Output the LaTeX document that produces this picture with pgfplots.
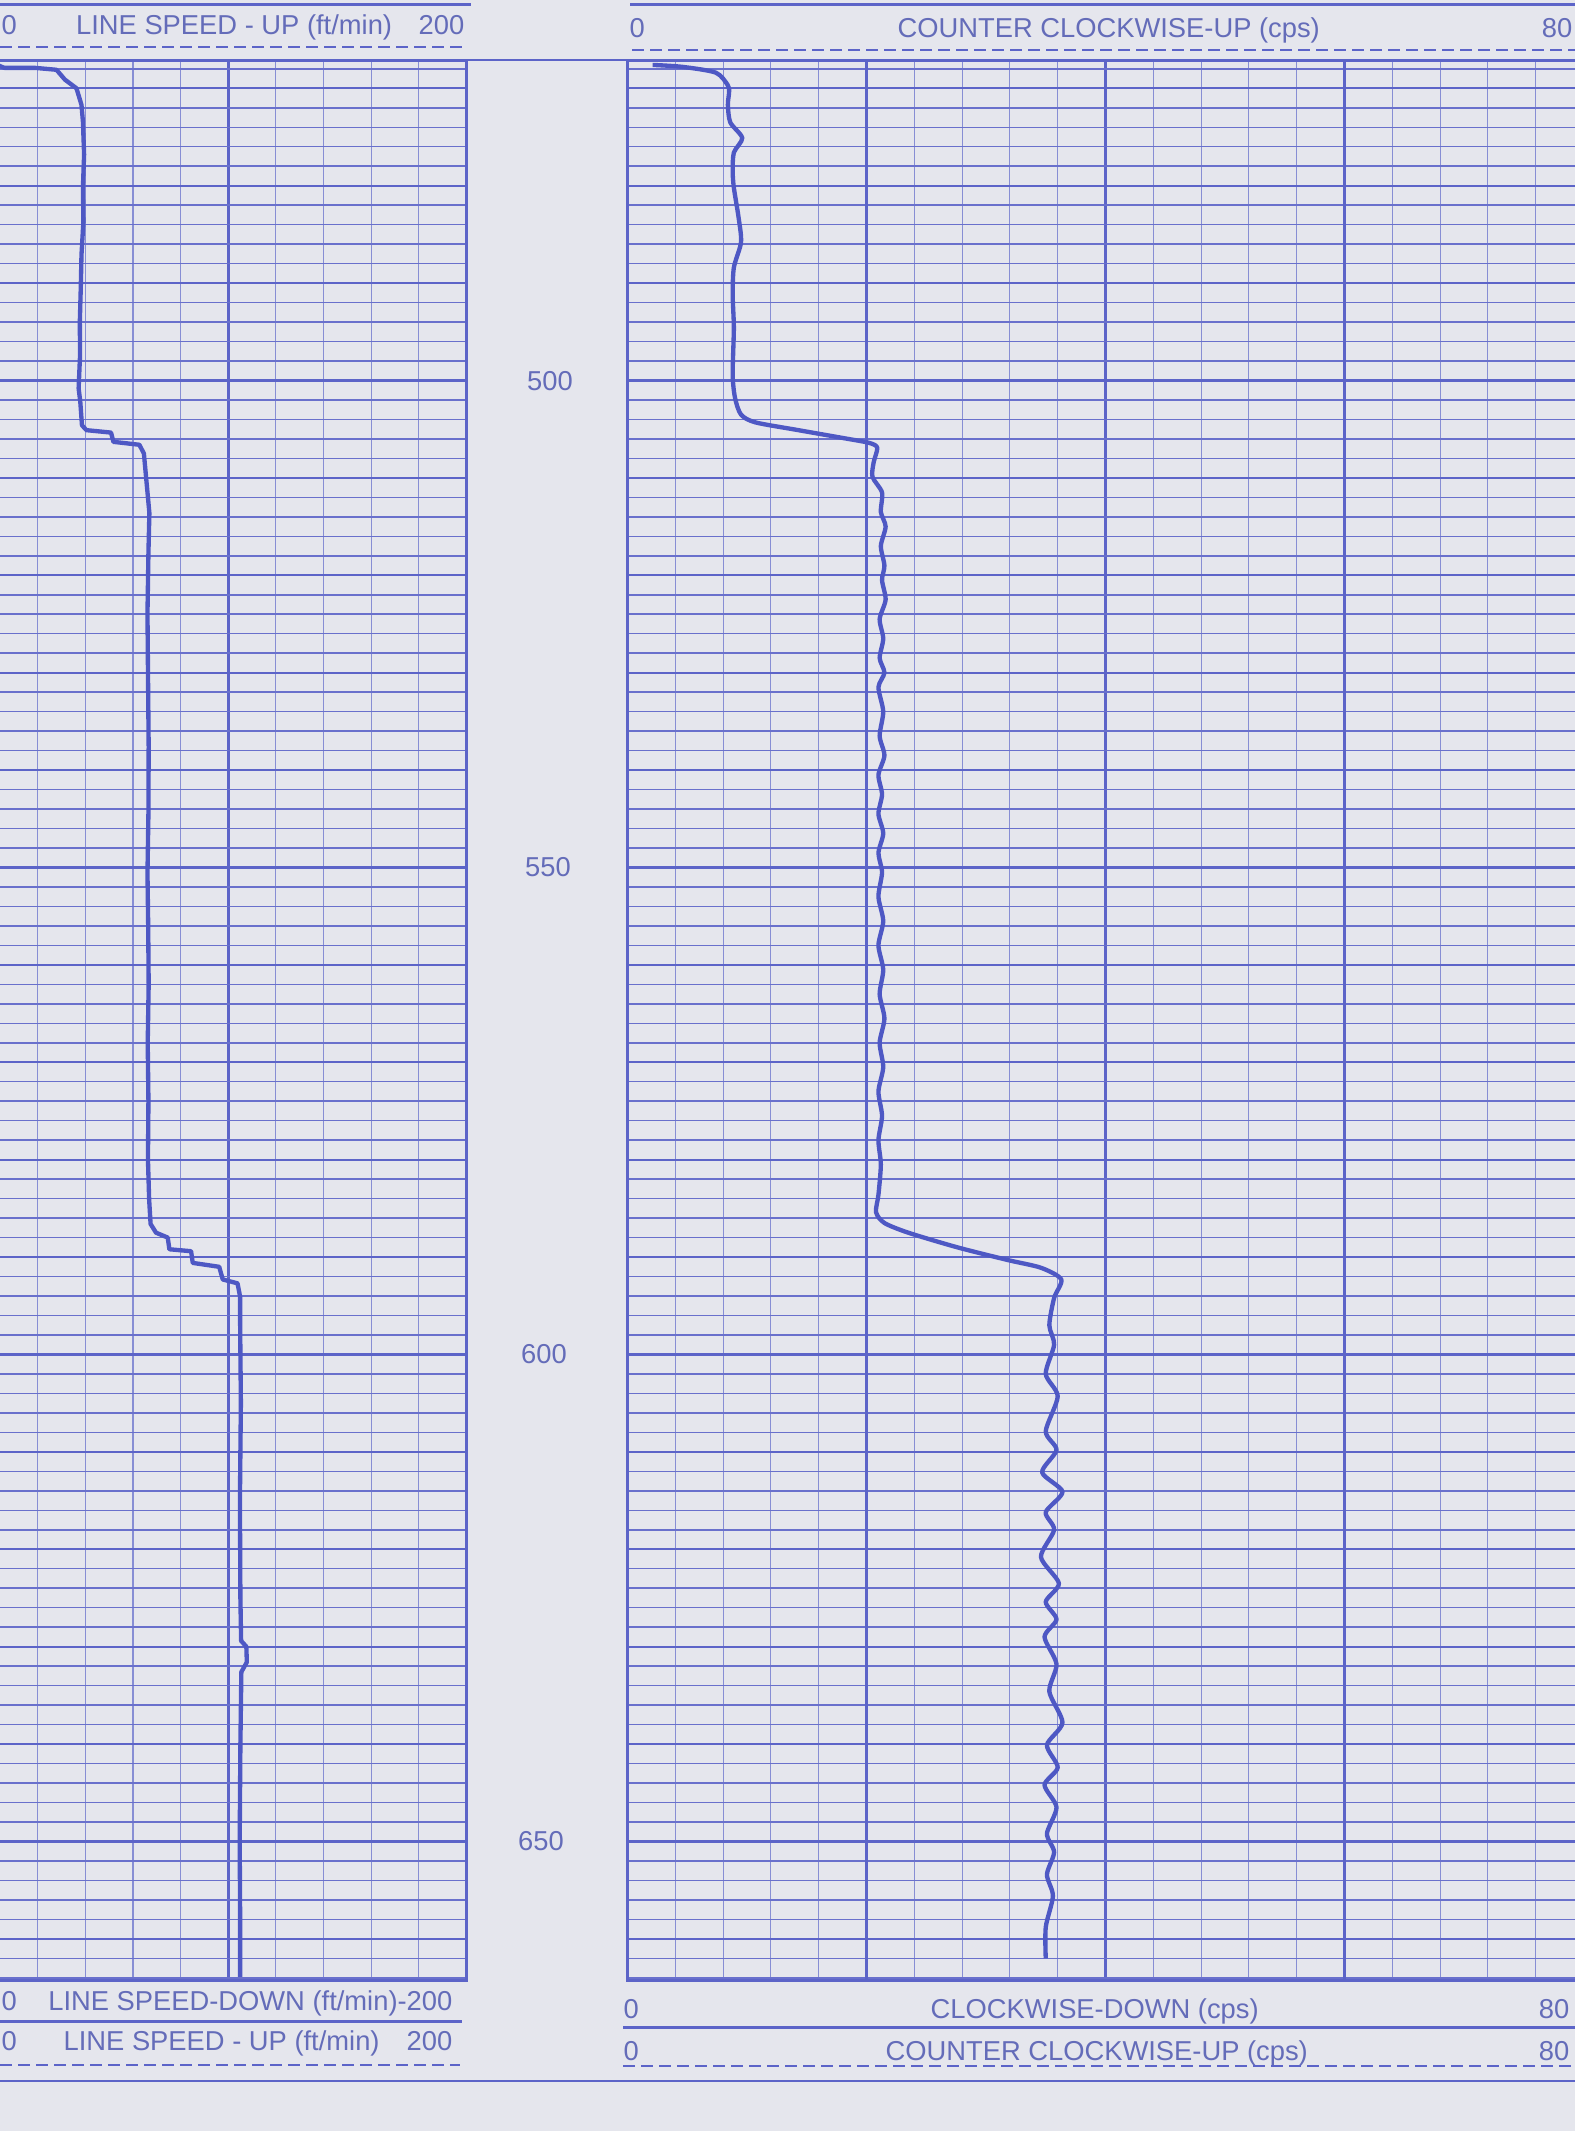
\documentclass[border=0pt]{standalone}
\usepackage{pgfplots}
\pgfplotsset{compat=1.18}
\usepackage{fontspec}
\setmainfont{Liberation Sans}
\definecolor{bg}{RGB}{229,230,237}
\definecolor{gridc}{RGB}{92,100,200}
\definecolor{gridthin}{RGB}{135,142,212}
\definecolor{gridh}{RGB}{105,112,204}
\definecolor{curvec}{RGB}{78,88,196}
\definecolor{textc}{RGB}{100,108,185}
\pgfplotsset{logtrack/.style={
  scale only axis, anchor=north west, height=575.9pt,
  y dir=reverse, ymin=467.2, ymax=664.3,
  axis line style={gridc, line width=0.8pt},
  major tick length=0pt, minor tick length=0pt,
  xticklabels={}, yticklabels={},
  ytick={500,550,600,650},
  minor ytick={468,470,...,664},
  extra y ticks={470,480,490,510,520,530,540,560,570,580,590,610,620,630,640,660},
  extra y tick labels={},
  extra y tick style={major grid style={gridc, line width=0.65pt}},
  grid=both,
  major grid style={gridc, line width=0.9pt},
  minor x grid style={gridthin, line width=0.35pt},
  minor y grid style={gridh, line width=0.45pt},
}}
\begin{document}
\begin{tikzpicture}
\path[use as bounding box, clip] (0,0) rectangle (472.5pt,-639.3pt);
\fill[bg] (0,0) rectangle (472.5pt,-639.3pt);

\begin{axis}[logtrack, at={(-3pt,-18.3pt)}, width=142.95pt,
  xmin=0, xmax=200, xtick={100}, minor xtick={20,40,60,80,120,140,160,180}]
\addplot[curvec, line width=1.3pt, line join=round] coordinates {
(0.5,467.35) (6,467.9) (18.8,467.9) (27.9,468.1) (31.4,469.1) (36.3,470.0) (38.4,471.7) (39.0,473.4) (39.5,476.8) (39.0,480.2) (39.2,483.7) (38.4,487.1) (38.1,490.5) (37.7,494.0) (37.8,497.4) (37.2,500.8) (37.9,502.2) (38.6,504.6) (40.5,505.1) (50.8,505.35) (51.8,506.3) (62.7,506.6) (64.6,507.5) (65.5,509.9) (66.9,513.6) (66.5,517.7) (66.1,523.9) (66.3,529.7) (66.6,537.6) (66.5,544.4) (66.1,550.6) (66.4,556.0) (66.6,562.0) (66.2,568.0) (66.5,574.0) (66.3,580.0) (66.8,584.1) (67.4,586.6) (69.7,587.5) (74.6,588.0) (75.3,589.2) (84.4,589.4) (85.1,590.6) (96.2,591.0) (97.7,592.3) (103.9,592.7) (105.0,594.1) (105.0,597.0) (105.3,605.0) (104.9,615.0) (105.1,625.0) (105.4,629.4) (107.6,630.0) (107.8,631.6) (105.5,632.6) (105.1,640.0) (104.8,650.0) (105.0,658.0) (105.0,663.9)
};
\end{axis}

\begin{axis}[logtrack, at={(188.25pt,-18.3pt)}, width=286.8pt,
  xmin=0, xmax=80, xtick={40}, minor xtick={4,8,...,76},
  extra x ticks={20,60}, extra x tick labels={},
  extra x tick style={major grid style={gridc, line width=0.7pt}}]
\addplot[curvec, line width=1.3pt, line join=round, smooth, tension=0.45] coordinates {
(2.1,467.6) (4.6,467.8) (7.4,468.4) (8.4,469.7) (8.5,470.4) (8.4,471.7) (8.6,473.5) (9.6,475.1) (8.9,476.6) (8.8,478.5) (8.9,480.2) (9.3,483.3) (9.5,485.8) (8.9,488.4) (8.8,491.2) (8.9,494.6) (8.8,499.4) (9.0,501.8) (9.5,503.5) (10.7,504.3) (14.3,505.1) (18.0,505.9) (20.2,506.4) (20.9,506.9) (20.6,508.4) (20.5,509.9) (21.3,511.5)
(21.2,513.5) (21.6,515.0) (21.2,517.0) (21.5,519.0) (21.3,520.5) (21.6,522.5) (21.1,524.5) (21.4,526.5) (21.1,528.5) (21.5,530.0) (21.0,531.5) (21.4,534.0) (21.1,536.5) (21.5,538.5) (21.0,540.5) (21.3,542.5) (21.0,544.5) (21.4,546.5) (21.0,548.5) (21.3,550.5) (21.0,553.0) (21.4,555.5) (21.0,558.0) (21.4,560.5) (21.1,563.0) (21.5,565.5) (21.1,568.0) (21.4,570.5) (21.0,573.0) (21.3,575.5) (21.0,578.0) (21.2,580.5) (21.0,583.6) (20.8,585.4) (21.5,586.5) (23.5,587.5) (27.6,589.0) (31.8,590.3) (34.6,591.1) (36.3,592.3)
(35.7,594.2) (35.3,597.0) (35.7,599.0) (35.0,602.0) (36.0,604.3) (35.0,607.9) (35.9,609.8) (34.7,612.1) (36.4,614.1) (35.0,616.2) (35.7,618.0) (34.6,620.8) (36.1,623.5) (35.0,625.4) (35.9,627.2) (34.9,629.0) (35.9,631.8) (35.3,634.6) (36.4,637.8) (35.1,640.1) (36.0,642.4) (34.9,644.2) (35.9,646.5) (35.1,649.2) (35.7,651.1) (35.1,653.4) (35.6,655.6) (35.0,658.8) (35.0,662.0)
};
\end{axis}

\begin{scope}[x=0.3pt, y=-0.3pt,
  every node/.style={inner sep=0pt, text=textc, font=\fontsize{8.2}{9.8}\selectfont},
  dashl/.style={gridc, line width=0.8pt, dash pattern=on 3.6pt off 1.8pt}]
% header
\draw[gridc, line width=1pt] (0,4.5) -- (471,4.5);
\draw[gridc, line width=1pt] (630,4.5) -- (1575,4.5);
\node[anchor=base west] at (1,35) {0};
\node[anchor=base west] at (75.5,35) {LINE SPEED - UP (ft/min)};
\node[anchor=base east] at (465,35) {200};
\draw[dashl] (0,47) -- (466,47);
\node[anchor=base west] at (629,38) {0};
\node[anchor=base west] at (897,38) {COUNTER CLOCKWISE-UP (cps)};
\node[anchor=base east] at (1573,38) {80};
\draw[dashl] (632,50) -- (1575,50);
\draw[gridc, line width=0.5pt] (0,60) -- (1575,60);
% depth labels
\node at (550,380.6) {500};
\node at (548,867.5) {550};
\node at (544,1354.5) {600};
\node at (541,1841.4) {650};
% footer left
\node[anchor=base west] at (1,2010) {0};
\node[anchor=base east] at (453,2010) {LINE SPEED-DOWN (ft/min)-200};
\draw[gridc, line width=0.9pt] (0,2021) -- (462,2021);
\node[anchor=base west] at (1,2050) {0};
\node[anchor=base west] at (63,2050) {LINE SPEED - UP (ft/min)};
\node[anchor=base east] at (453,2050) {200};
\draw[dashl] (0,2065) -- (460,2065);
% footer right
\node[anchor=base west] at (623,2018) {0};
\node[anchor=base west] at (930,2018) {CLOCKWISE-DOWN (cps)};
\node[anchor=base east] at (1570,2018) {80};
\draw[gridc, line width=0.9pt] (623,2027) -- (1575,2027);
\node[anchor=base west] at (623,2060) {0};
\node[anchor=base west] at (885,2060) {COUNTER CLOCKWISE-UP (cps)};
\node[anchor=base east] at (1570,2060) {80};
\draw[dashl] (623,2066) -- (1575,2066);
\draw[gridc, line width=0.5pt] (0,2081) -- (1575,2081);
\end{scope}
\end{tikzpicture}
\end{document}
